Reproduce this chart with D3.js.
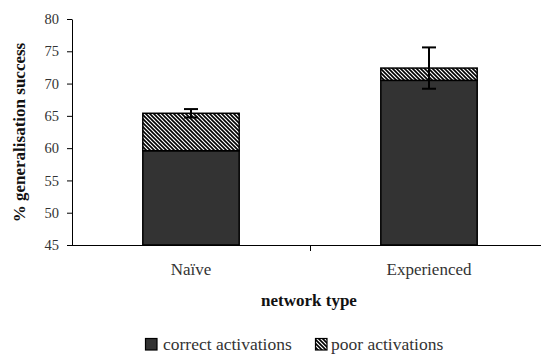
<!DOCTYPE html>
<html><head><meta charset="utf-8">
<script src="https://cdn.jsdelivr.net/npm/d3@7"></script>
</head>
<body style="margin:0;background:#fff">
<svg id="c" width="541" height="354" font-family="Liberation Serif"></svg>
<script>
const categories = ["Naïve", "Experienced"];
const correctActivations = [59.6, 70.5];
const poorActivations = [5.8, 1.9];
const errorHalf = [0.65, 3.2];
const yTicks = [45, 50, 55, 60, 65, 70, 75, 80];
const seriesNames = ["correct activations", "poor activations"];

const FONT = "Liberation Serif";
const svg = d3.select("#c");
const m = {l: 72, r: 548, t: 19, b: 245};
const defs = svg.append("defs");
const pat = defs.append("pattern").attr("id","hatch").attr("patternUnits","userSpaceOnUse")
  .attr("width",4).attr("height",4);
pat.append("rect").attr("width",4).attr("height",4).attr("fill","#fff");
pat.append("path").attr("d","M-1,-1 L5,5 M-1,3 L1,5 M3,-1 L5,1").attr("stroke","#000").attr("stroke-width",1.6);

const x = d3.scaleBand().domain(categories).range([m.l, m.r]).paddingInner(0).paddingOuter(0);
const y = d3.scaleLinear().domain([45, 80]).range([m.b, m.t]);
const bw = x.bandwidth() * 0.405;

const g = svg.append("g");
categories.forEach((c, i) => {
  const cx = x(c) + x.bandwidth() / 2;
  const total = correctActivations[i] + poorActivations[i];
  g.append("rect").attr("x", cx - bw/2).attr("y", y(correctActivations[i]))
    .attr("width", bw).attr("height", y(45) - y(correctActivations[i]))
    .attr("fill", "#333").attr("stroke", "#000").attr("stroke-width", 1.5);
  g.append("rect").attr("x", cx - bw/2).attr("y", y(total))
    .attr("width", bw).attr("height", y(correctActivations[i]) - y(total))
    .attr("fill", "url(#hatch)").attr("stroke", "#000").attr("stroke-width", 1.5);
  const hi = y(total + errorHalf[i]), lo = y(total - errorHalf[i]);
  g.append("line").attr("x1", cx).attr("x2", cx).attr("y1", hi).attr("y2", lo)
    .attr("stroke", "#000").attr("stroke-width", 2);
  [hi, lo].forEach(yy => g.append("line").attr("x1", cx - 7).attr("x2", cx + 7)
    .attr("y1", yy).attr("y2", yy).attr("stroke", "#000").attr("stroke-width", 2));
});

function label(parent, str, px, py, size, opts = {}) {
  return parent.append("text").attr("x", px).attr("y", py)
    .attr("font-family", FONT).attr("font-size", size)
    .attr("text-anchor", opts.anchor || "middle").attr("fill", opts.fill || "#333")
    .attr("font-weight", opts.bold ? "bold" : null).text(str);
}

// y axis
const ya = svg.append("g").attr("transform", `translate(${m.l},0)`)
  .call(d3.axisLeft(y).tickValues(yTicks).tickSize(5).tickPadding(8).tickSizeOuter(0));
ya.attr("font-family", FONT).attr("font-size", 14.5);
ya.select(".domain").attr("stroke", "#000").attr("stroke-width", 1);
ya.selectAll(".tick line").attr("stroke", "#000");
ya.selectAll(".tick text").attr("fill", "#333");

// x axis
svg.append("line").attr("x1", m.l).attr("x2", m.r).attr("y1", m.b + 0.5).attr("y2", m.b + 0.5)
  .attr("stroke", "#000").attr("stroke-width", 1);
svg.append("line").attr("x1", x(categories[1]) + 0.5).attr("x2", x(categories[1]) + 0.5)
  .attr("y1", m.b).attr("y2", m.b + 6).attr("stroke", "#000");

categories.forEach(c => label(svg, c, x(c) + x.bandwidth()/2, 275, 17));

label(svg, "network type", 309, 306, 17, {bold: true, fill: "#111"});
label(svg.append("g").attr("transform", "translate(25,132.5) rotate(-90)"),
  "% generalisation success", 0, 0, 17, {bold: true, fill: "#111"});

// legend
const lg = svg.append("g");
lg.append("rect").attr("x", 145.5).attr("y", 338.5).attr("width", 11.5).attr("height", 11.5)
  .attr("fill", "#333").attr("stroke", "#000").attr("stroke-width", 1.2);
label(lg, seriesNames[0], 163, 350, 17.5, {anchor: "start"});
lg.append("rect").attr("x", 315.5).attr("y", 338.5).attr("width", 11.5).attr("height", 11.5)
  .attr("fill", "url(#hatch)").attr("stroke", "#000").attr("stroke-width", 1.2);
label(lg, seriesNames[1], 331, 350, 17.5, {anchor: "start"});
</script></body></html>
